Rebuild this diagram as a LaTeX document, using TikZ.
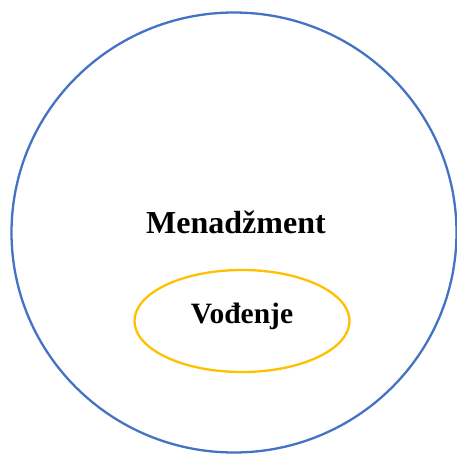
\documentclass[tikz,border=0pt]{standalone}
\usepackage{fontspec}
\setmainfont{Liberation Serif}
\definecolor{outerblue}{HTML}{4472C4}
\definecolor{inneryellow}{HTML}{FFC000}
\begin{document}
\begin{tikzpicture}[x=1pt,y=-1pt,
  outer/.style={draw=outerblue,line width=2.3pt},
  inner/.style={draw=inneryellow,line width=2.3pt},
  lbl/.style={anchor=base,inner sep=0pt,font=\bfseries}]
\useasboundingbox (0,0) rectangle (457,453);
\draw[outer] (234,232.5) ellipse [x radius=222.5, y radius=220];
\draw[inner] (242,321) ellipse [x radius=107.5, y radius=51];
\node[lbl,font=\fontsize{32}{36}\selectfont\bfseries] (m) at (236,233) {Menadžment};
\node[lbl,font=\fontsize{29.5}{32}\selectfont\bfseries] (v) at (242,323.5) {Vođenje};
\end{tikzpicture}
\end{document}
